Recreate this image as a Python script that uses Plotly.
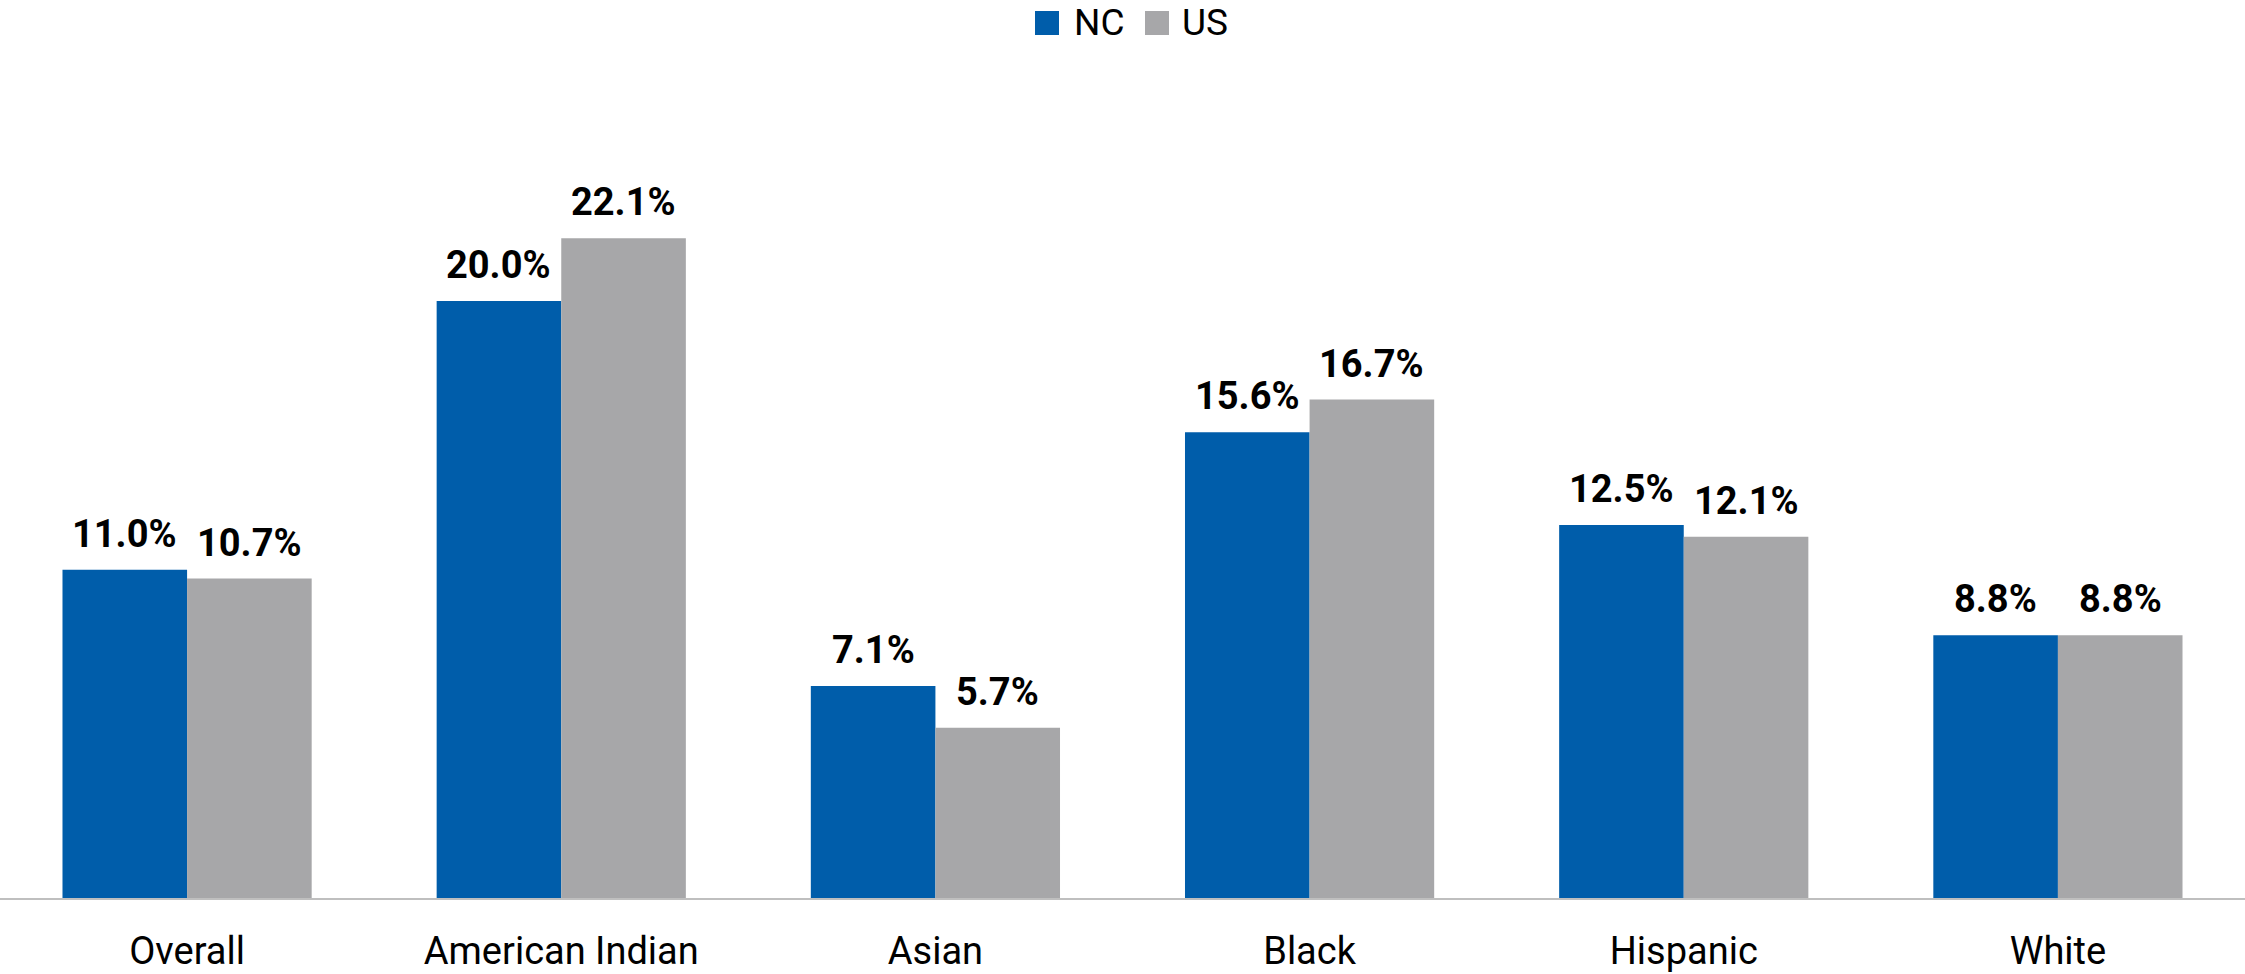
import plotly.graph_objects as go

categories = ["Overall", "American Indian", "Asian", "Black", "Hispanic", "White"]
nc_values = [11.0, 20.0, 7.1, 15.6, 12.5, 8.8]
us_values = [10.7, 22.1, 5.7, 16.7, 12.1, 8.8]
series_names = ["NC", "US"]
series_colors = ["#005DAA", "#A7A7A9"]

W, H = 2245, 974
MT, MB = 0, 76
BARGAP = 0.334
YMAX = (H - MT - MB) / 29.85

fig = go.Figure()
for name, vals, col in zip(series_names, [nc_values, us_values], series_colors):
    fig.add_trace(go.Bar(name=name, x=categories, y=vals, marker=dict(color=col, line=dict(width=0)),
                         showlegend=False, hoverinfo="x+y"))

# value labels above bars (positioned on the category axis by index)
half = (1 - BARGAP) / 4
annotations = []
for k, vals in enumerate([nc_values, us_values]):
    off = -half if k == 0 else half
    for i, v in enumerate(vals):
        annotations.append(dict(x=i + off, y=v, xref="x", yref="y", text=f"{v:.1f}%",
                                showarrow=False, yanchor="bottom", xanchor="center", yshift=12,
                                font=dict(family="Roboto", size=38, color="#000000", weight="bold")))

# manual legend
ph = H - MT - MB
def py(p):
    return (ph - (p - MT)) / ph

legend_items = [(1035, 1072), (1145, 1180)]
shapes = []
for (sx, tx), name, col in zip(legend_items, series_names, series_colors):
    shapes.append(dict(type="rect", xref="paper", yref="paper", x0=sx / W, x1=(sx + 24) / W,
                       y0=py(35), y1=py(11), fillcolor=col, line=dict(width=0)))
    annotations.append(dict(x=tx / W, y=py(23), xref="paper", yref="paper", text=name, showarrow=False,
                            xanchor="left", yanchor="middle",
                            font=dict(family="Roboto", size=37, color="#000000")))

fig.update_layout(
    width=W, height=H,
    margin=dict(l=0, r=0, t=MT, b=MB),
    barmode="group", bargap=BARGAP, bargroupgap=0,
    plot_bgcolor="white", paper_bgcolor="white",
    showlegend=False,
    annotations=annotations, shapes=shapes,
    font=dict(family="Roboto", color="#000000"),
)
fig.update_xaxes(showline=True, linecolor="#BFBFBF", linewidth=2, showgrid=False, ticks="",
                 tickfont=dict(family="Roboto", size=38, color="#000000"), ticklabelstandoff=18)
fig.update_yaxes(range=[0, YMAX], visible=False, showgrid=False, zeroline=False)

fig.write_html("out.html", config={"displayModeBar": False},
               post_script="document.body.style.margin='0';document.body.style.overflow='hidden';")
